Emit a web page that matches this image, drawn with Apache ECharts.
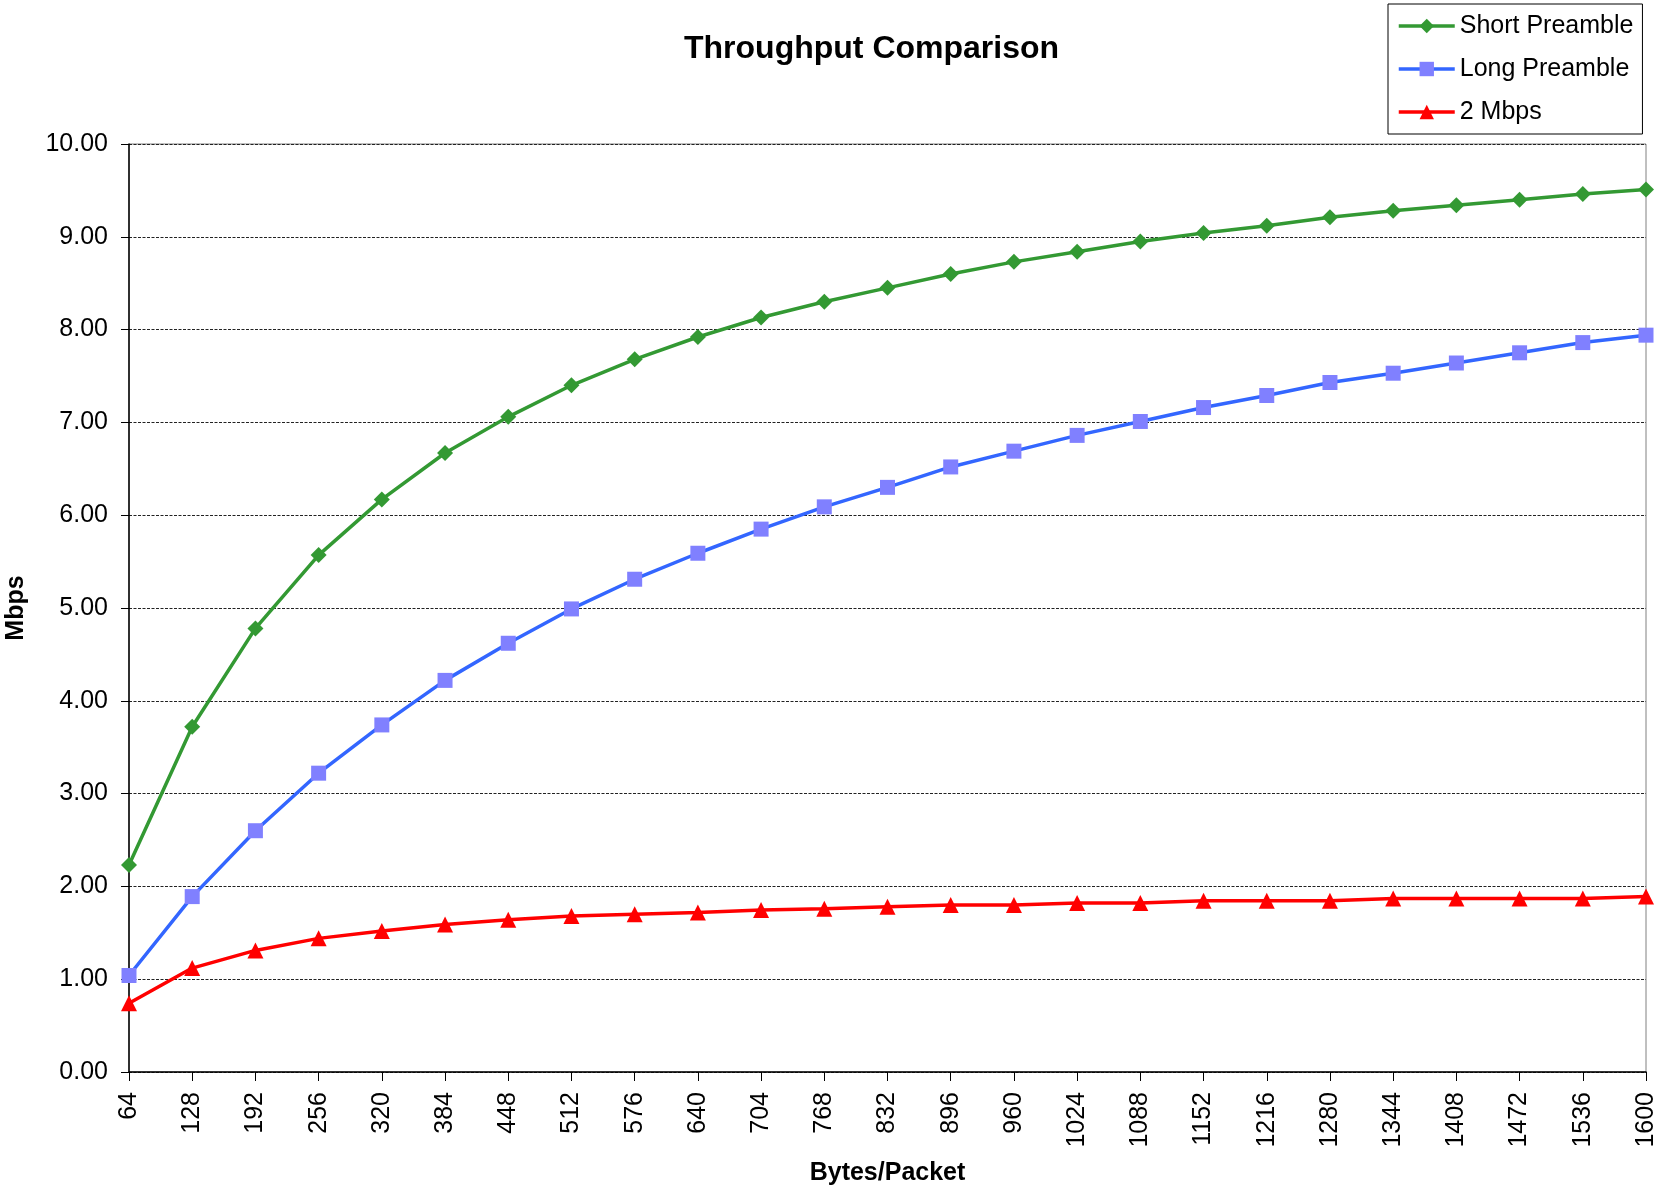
<!DOCTYPE html>
<html>
<head>
<meta charset="utf-8">
<title>Throughput Comparison</title>
<script src="https://cdn.jsdelivr.net/npm/echarts@6/dist/echarts.min.js"></script>
<style>
  html, body { margin: 0; padding: 0; background: #fff; }
  #chart { width: 1667px; height: 1191px; }
</style>
</head>
<body>
<div id="chart"></div>
<script>
// Packet sizes (bytes per packet) along the x axis
const packetSizes = [64, 128, 192, 256, 320, 384, 448, 512, 576, 640, 704, 768, 832,
  896, 960, 1024, 1088, 1152, 1216, 1280, 1344, 1408, 1472, 1536, 1600];

// Throughput in Mbps for each mode
const shortPreamble = [2.23, 3.72, 4.78, 5.57, 6.17, 6.67, 7.06, 7.40, 7.68, 7.92, 8.13, 8.30, 8.45,
  8.60, 8.73, 8.84, 8.95, 9.04, 9.12, 9.21, 9.28, 9.34, 9.40, 9.46, 9.51];
const longPreamble = [1.04, 1.89, 2.60, 3.22, 3.74, 4.22, 4.62, 4.99, 5.31, 5.59, 5.85, 6.09, 6.30,
  6.52, 6.69, 6.86, 7.01, 7.16, 7.29, 7.43, 7.53, 7.64, 7.75, 7.86, 7.94];
const twoMbps = [0.74, 1.12, 1.31, 1.44, 1.52, 1.59, 1.64, 1.68, 1.70, 1.72, 1.745, 1.76, 1.78,
  1.80, 1.80, 1.82, 1.82, 1.845, 1.845, 1.845, 1.87, 1.87, 1.87, 1.87, 1.89];

const FONT = '"Liberation Sans", Arial, sans-serif';

const chart = echarts.init(document.getElementById('chart'), null, { renderer: 'canvas' });

chart.setOption({
  animation: false,
  backgroundColor: '#ffffff',
  title: {
    text: 'Throughput Comparison',
    left: 684,
    top: 33,
    padding: 0,
    textStyle: { fontFamily: FONT, fontSize: 32, fontWeight: 'bold', color: '#000' }
  },
  legend: {
    orient: 'vertical',
    left: 1388,
    top: 4,
    padding: [8, 9, 8, 9],
    itemWidth: 56,
    itemHeight: 18,
    itemGap: 15,
    borderColor: '#000',
    borderWidth: 1,
    backgroundColor: '#fff',
    lineStyle: { width: 3.5 },
    textStyle: { fontFamily: FONT, fontSize: 25, color: '#000', lineHeight: 28 },
    data: ['Short Preamble', 'Long Preamble', '2 Mbps']
  },
  grid: {
    left: 129,
    right: 21,
    top: 144,
    bottom: 119,
    outerBoundsMode: 'none',
    containLabel: false,
    show: true,
    borderColor: '#808080',
    borderWidth: 1,
    backgroundColor: '#fff'
  },
  xAxis: {
    type: 'category',
    data: packetSizes.map(String),
    boundaryGap: false,
    name: 'Bytes/Packet',
    nameLocation: 'middle',
    nameGap: 89,
    nameTextStyle: { fontFamily: FONT, fontSize: 25, fontWeight: 'bold', color: '#000' },
    axisLine: { lineStyle: { color: '#000', width: 1.5 } },
    axisTick: { alignWithLabel: true, length: 9, interval: 0, lineStyle: { color: '#000' } },
    axisLabel: {
      interval: 0,
      rotate: 90,
      margin: 20,
      fontFamily: FONT,
      fontSize: 25,
      color: '#000'
    },
    splitLine: { show: false }
  },
  yAxis: {
    type: 'value',
    min: 0,
    max: 10,
    interval: 1,
    name: 'Mbps',
    nameLocation: 'middle',
    nameRotate: 90,
    nameGap: 100,
    nameTextStyle: { fontFamily: FONT, fontSize: 25, fontWeight: 'bold', color: '#000' },
    axisLine: { show: true, lineStyle: { color: '#000', width: 1.5 } },
    axisTick: { show: true, length: 8, lineStyle: { color: '#000' } },
    axisLabel: {
      margin: 21,
      fontFamily: FONT,
      fontSize: 25,
      color: '#000',
      formatter: v => v.toFixed(2)
    },
    splitLine: { show: true, lineStyle: { color: '#222', width: 1, type: [3, 1.5] } }
  },
  series: [
    {
      name: 'Short Preamble',
      type: 'line',
      data: shortPreamble,
      symbol: 'diamond',
      symbolSize: 16,
      showAllSymbol: true,
      itemStyle: { color: '#339933' },
      lineStyle: { color: '#339933', width: 3.5 },
      z: 3
    },
    {
      name: 'Long Preamble',
      type: 'line',
      data: longPreamble,
      symbol: 'rect',
      symbolSize: 15,
      showAllSymbol: true,
      itemStyle: { color: '#8080ff' },
      lineStyle: { color: '#3366ff', width: 3.5 },
      z: 3
    },
    {
      name: '2 Mbps',
      type: 'line',
      data: twoMbps,
      symbol: 'triangle',
      symbolSize: 16,
      showAllSymbol: true,
      itemStyle: { color: '#ff0000' },
      lineStyle: { color: '#ff0000', width: 3.5 },
      z: 3
    }
  ]
});
</script>
</body>
</html>
